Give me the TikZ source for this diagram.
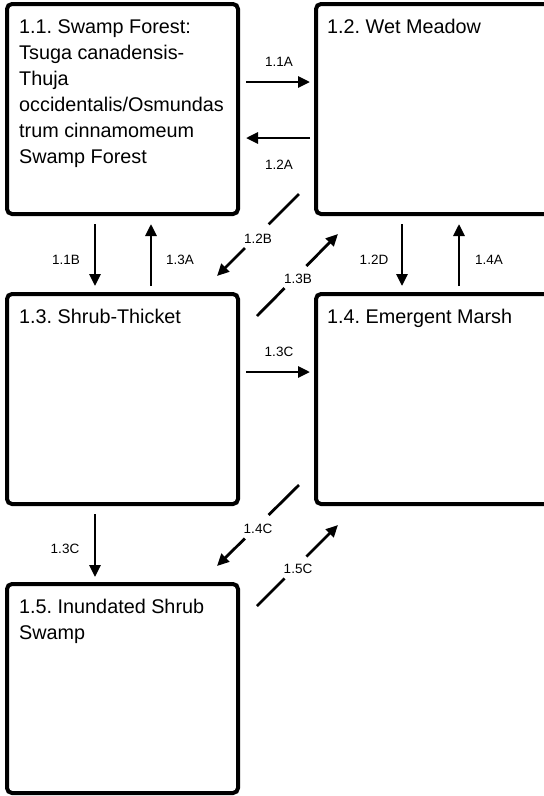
\documentclass[tikz,border=0pt]{standalone}
\usepackage{fontspec}
\setmainfont{Liberation Sans}
\frenchspacing
\usetikzlibrary{arrows.meta,calc}
\tikzset{
  statebox/.style={draw=black, line width=4pt, rounded corners=5pt, minimum width=231pt, minimum height=210pt, inner sep=0pt, fill=white},
  boxtext/.style={anchor=north west, inner sep=0pt, align=left, font=\fontsize{19.8pt}{26pt}\selectfont},
  arr/.style={line width=2.8pt, -{Triangle[length=12pt,width=11pt]}},
  seg/.style={line width=2.8pt},
  lab/.style={inner sep=0pt, font=\fontsize{13.5pt}{16pt}\selectfont}
}
\begin{document}
\begin{tikzpicture}[x=1pt,y=-1pt]
\useasboundingbox (0,0) rectangle (544,796);
% boxes
\node[statebox] (b11) at (122.5,109) {};
\node[statebox, minimum width=240pt] (b12) at (436,109) {};
\node[statebox] (b13) at (122.5,399) {};
\node[statebox, minimum width=240pt] (b14) at (436,399) {};
\node[statebox, minimum height=209pt] (b15) at (122.5,688.5) {};
% box texts
\node[boxtext] (t11) at ($(b11.north west)+(14,17)$) {1.1. Swamp Forest:\\Tsuga canadensis-\\Thuja\\occidentalis/Osmundas\\trum cinnamomeum\\Swamp Forest};
\node[boxtext] (t12) at ($(b12.north west)+(13,17)$) {1.2. Wet Meadow};
\node[boxtext] (t13) at ($(b13.north west)+(14,17)$) {1.3. Shrub-Thicket};
\node[boxtext] (t14) at ($(b14.north west)+(13,17)$) {1.4. Emergent Marsh};
\node[boxtext] (t15) at ($(b15.north west)+(14,17)$) {1.5. Inundated Shrub\\Swamp};
% horizontal arrows
\draw[arr] ($(b11.east)+(6,-27)$) -- ($(b12.west)+(-4,-27)$);
\draw[arr] ($(b12.west)+(-4,29)$) -- ($(b11.east)+(6,29)$);
\draw[arr] ($(b13.east)+(6,-27)$) -- ($(b14.west)+(-4,-27)$);
% vertical arrows
\draw[arr] ($(b11.south)+(-27.5,8)$) -- ($(b13.north)+(-27.5,-6)$);
\draw[arr] ($(b13.north)+(28.5,-6)$) -- ($(b11.south)+(28.5,8)$);
\draw[arr] ($(b12.south west)+(88,8)$) -- ($(b14.north west)+(88,-6)$);
\draw[arr] ($(b14.north west)+(145,-6)$) -- ($(b12.south west)+(145,8)$);
\draw[arr] ($(b13.south)+(-27.5,8)$) -- ($(b15.north)+(-27.5,-5)$);
% diagonal arrows with gaps for labels
\coordinate (d1s) at ($(b12.south west)+(-15,-22)$);
\coordinate (d1e) at ($(b13.north east)+(-23,-16)$);
\draw[seg] (d1s) -- ($(d1s)!0.37!(d1e)$);
\draw[arr] ($(d1s)!0.66!(d1e)$) -- (d1e);
\coordinate (d2s) at ($(b13.north east)+(17,24)$);
\coordinate (d2e) at ($(b12.south west)+(24,18)$);
\draw[seg] (d2s) -- ($(d2s)!0.34!(d2e)$);
\draw[arr] ($(d2s)!0.61!(d2e)$) -- (d2e);
\coordinate (d3s) at ($(b14.south west)+(-15,-21)$);
\coordinate (d3e) at ($(b15.north east)+(-23,-16)$);
\draw[seg] (d3s) -- ($(d3s)!0.37!(d3e)$);
\draw[arr] ($(d3s)!0.66!(d3e)$) -- (d3e);
\coordinate (d4s) at ($(b15.north east)+(17,24)$);
\coordinate (d4e) at ($(b14.south west)+(24,19)$);
\draw[seg] (d4s) -- ($(d4s)!0.34!(d4e)$);
\draw[arr] ($(d4s)!0.61!(d4e)$) -- (d4e);
% labels
\node[lab] (l11a) at (279,62) {1.1A};
\node[lab] (l12a) at (279,165) {1.2A};
\node[lab] (l12b) at (258,239) {1.2B};
\node[lab] (l13b) at (298,279) {1.3B};
\node[lab] (l11b) at (66,260) {1.1B};
\node[lab] (l13a) at (180,260) {1.3A};
\node[lab] (l12d) at (374,260) {1.2D};
\node[lab] (l14a) at (489,260) {1.4A};
\node[lab] (l13c) at (279,352) {1.3C};
\node[lab] (l14c) at (258,529) {1.4C};
\node[lab] (l15c) at (298,569) {1.5C};
\node[lab] (l13cv) at (65,549) {1.3C};
\end{tikzpicture}
\end{document}
